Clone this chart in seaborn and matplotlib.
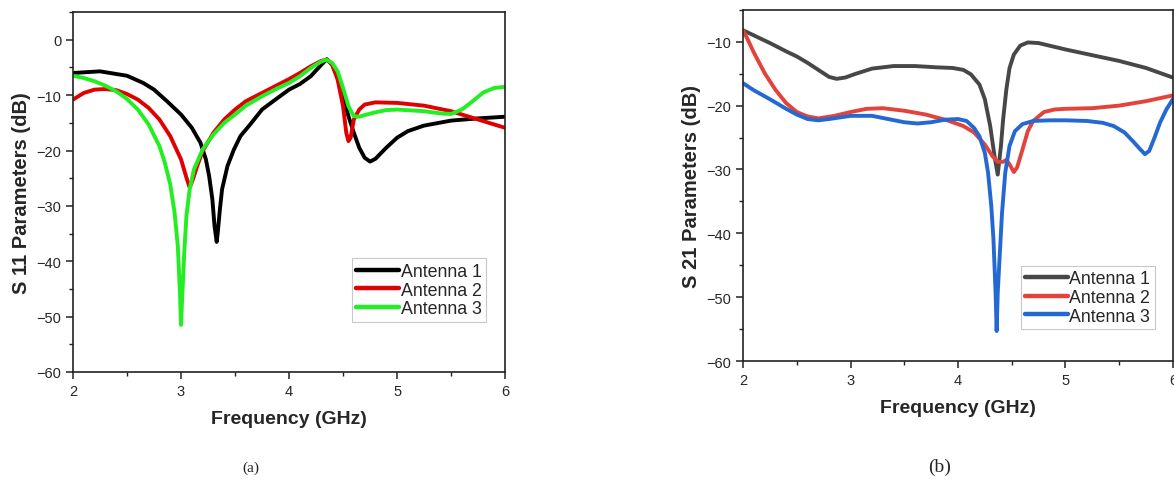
import matplotlib
matplotlib.use("Agg")
import matplotlib.pyplot as plt
import seaborn as sns
import pandas as pd
from matplotlib.ticker import MultipleLocator

# ---- S11 (panel a) ----
s11_f1 = [2.0, 2.25, 2.5, 2.65, 2.75, 2.87, 3.0, 3.1, 3.18, 3.23, 3.26, 3.29, 3.31, 3.33, 3.34, 3.36,
          3.38, 3.43, 3.49, 3.55, 3.64, 3.75, 3.86, 4.0, 4.1, 4.2, 4.3, 4.35, 4.4, 4.45, 4.5, 4.55,
          4.6, 4.65, 4.7, 4.75, 4.8, 4.85, 4.9, 5.0, 5.1, 5.25, 5.5, 5.75, 6.0]
s11_a1 = [-6.0, -5.7, -6.5, -7.8, -9.0, -11.1, -13.5, -15.9, -18.6, -21.6, -24.6, -28.8, -33.6, -36.5, -34.8, -30.6,
          -27.0, -22.8, -19.8, -17.4, -15.3, -12.6, -11.0, -9.0, -8.0, -6.6, -4.5, -3.5, -4.5, -6.9, -10.2, -13.8,
          -16.8, -19.5, -21.3, -22.0, -21.5, -20.5, -19.5, -17.7, -16.5, -15.5, -14.6, -14.2, -13.9]

s11_f2 = [2.0, 2.1, 2.2, 2.3, 2.4, 2.5, 2.6, 2.7, 2.8, 2.9, 2.95, 3.0, 3.05, 3.08, 3.11, 3.15,
          3.2, 3.3, 3.4, 3.5, 3.6, 3.75, 3.9, 4.0, 4.1, 4.2, 4.3, 4.35, 4.4, 4.45, 4.5, 4.53,
          4.55, 4.57, 4.6, 4.65, 4.7, 4.8, 5.0, 5.25, 5.5, 5.75, 6.0]
s11_a2 = [-10.8, -9.6, -9.0, -8.9, -9.1, -9.8, -10.8, -12.3, -14.4, -17.4, -19.5, -21.6, -24.9, -26.7, -25.2, -22.8,
          -20.1, -16.8, -14.4, -12.6, -11.1, -9.6, -8.1, -7.1, -6.0, -4.8, -3.8, -3.6, -4.5, -7.2, -12.0, -16.8,
          -18.3, -17.7, -14.4, -12.6, -11.7, -11.3, -11.4, -11.9, -12.9, -14.4, -15.9]

s11_f3 = [2.0, 2.1, 2.2, 2.3, 2.4, 2.5, 2.6, 2.7, 2.8, 2.85, 2.9, 2.94, 2.97, 2.99, 3.0, 3.01,
          3.03, 3.05, 3.08, 3.12, 3.2, 3.3, 3.4, 3.5, 3.6, 3.75, 3.9, 4.0, 4.1, 4.2, 4.3, 4.35,
          4.4, 4.45, 4.5, 4.55, 4.6, 4.65, 4.7, 4.8, 4.9, 5.0, 5.25, 5.4, 5.5, 5.6, 5.7, 5.8,
          5.9, 6.0]
s11_a3 = [-6.5, -6.9, -7.5, -8.3, -9.3, -10.7, -12.6, -15.3, -19.2, -22.2, -26.1, -31.2, -37.2, -45.6, -51.5, -46.8,
          -38.4, -31.8, -27.0, -23.4, -19.8, -17.1, -15.0, -13.5, -11.9, -10.2, -8.7, -7.8, -6.6, -5.1, -3.9, -3.6,
          -4.2, -5.7, -8.7, -12.0, -13.8, -13.9, -13.6, -13.1, -12.7, -12.6, -12.9, -13.3, -13.4, -12.6, -11.1, -9.5,
          -8.7, -8.5]

# ---- S21 (panel b) ----
s21_f1 = [2.0, 2.1, 2.25, 2.4, 2.5, 2.6, 2.7, 2.8, 2.87, 2.95, 3.05, 3.2, 3.4, 3.6, 3.8, 3.95,
          4.05, 4.12, 4.2, 4.25, 4.3, 4.34, 4.37, 4.4, 4.42, 4.45, 4.48, 4.52, 4.58, 4.65, 4.75, 4.9,
          5.0, 5.25, 5.5, 5.75, 5.9, 6.0]
s21_a1 = [-8.2, -9.0, -10.2, -11.5, -12.3, -13.3, -14.4, -15.5, -15.8, -15.6, -15.0, -14.2, -13.8, -13.8, -14.0, -14.1,
          -14.4, -15.1, -16.7, -19.0, -23.2, -27.9, -30.8, -26.3, -22.2, -17.5, -14.1, -12.0, -10.6, -10.1, -10.2, -10.8,
          -11.2, -12.1, -13.0, -14.1, -15.0, -15.6]

s21_f2 = [2.0, 2.05, 2.1, 2.2, 2.3, 2.4, 2.5, 2.6, 2.7, 2.85, 3.0, 3.15, 3.3, 3.5, 3.7, 3.9,
          4.05, 4.15, 4.25, 4.32, 4.37, 4.42, 4.45, 4.48, 4.52, 4.55, 4.6, 4.65, 4.7, 4.8, 4.9, 5.0,
          5.25, 5.5, 5.75, 6.0]
s21_a2 = [-8.2, -9.9, -11.7, -14.9, -17.5, -19.6, -21.0, -21.7, -22.0, -21.6, -21.0, -20.5, -20.4, -20.8, -21.4, -22.3,
          -23.2, -24.2, -26.1, -27.9, -28.8, -28.8, -28.5, -29.2, -30.4, -29.7, -26.9, -24.0, -22.4, -21.0, -20.6, -20.5,
          -20.4, -20.0, -19.3, -18.4]

s21_f3 = [2.0, 2.1, 2.25, 2.4, 2.5, 2.6, 2.7, 2.8, 3.0, 3.2, 3.35, 3.5, 3.62, 3.75, 3.88, 4.0,
          4.08, 4.15, 4.2, 4.25, 4.28, 4.31, 4.33, 4.35, 4.36, 4.37, 4.39, 4.41, 4.44, 4.48, 4.53, 4.6,
          4.7, 4.85, 5.0, 5.2, 5.35, 5.45, 5.55, 5.63, 5.7, 5.74, 5.78, 5.83, 5.88, 5.94, 6.0]
s21_a3 = [-16.5, -17.6, -19.0, -20.5, -21.4, -22.1, -22.3, -22.1, -21.6, -21.6, -22.1, -22.6, -22.8, -22.6, -22.2, -22.1,
          -22.4, -23.5, -24.8, -27.4, -30.5, -35.7, -40.9, -49.3, -55.3, -49.3, -43.0, -36.8, -30.5, -26.3, -24.0, -22.9,
          -22.4, -22.3, -22.3, -22.4, -22.7, -23.2, -24.2, -25.6, -26.9, -27.6, -27.1, -25.0, -22.7, -20.6, -19.0]

names = ["Antenna 1", "Antenna 2", "Antenna 3"]
colors_a = ["#000000", "#e00000", "#22ee22"]
colors_b = ["#474747", "#e2433b", "#2468d2"]


def long_df(freqs, vals):
    parts = []
    for name, f, v in zip(names, freqs, vals):
        parts.append(pd.DataFrame({"freq": f, "db": v, "ant": name}))
    return pd.concat(parts, ignore_index=True)


df_a = long_df([s11_f1, s11_f2, s11_f3], [s11_a1, s11_a2, s11_a3])
df_b = long_df([s21_f1, s21_f2, s21_f3], [s21_a1, s21_a2, s21_a3])

sns.set_style("ticks")
plt.rcParams["font.family"] = ["Liberation Sans", "DejaVu Sans"]

fig = plt.figure(figsize=(11.74, 4.85), dpi=100)
ax1 = fig.add_axes([0.0622, 0.231, 0.368, 0.742])
ax2 = fig.add_axes([0.633, 0.2536, 0.366, 0.724])


def style(ax, df, pal, ylab, ylim, yticks, leg_anchor):
    sns.lineplot(data=df, x="freq", y="db", hue="ant", palette=pal, estimator=None,
                 sort=True, linewidth=2.8, ax=ax)
    for ln in ax.get_lines():
        ln.set_solid_joinstyle("round")
        ln.set_solid_capstyle("round")
    ax.set_xlim(2, 6)
    ax.set_ylim(*ylim)
    ax.set_xticks([2, 3, 4, 5, 6])
    ax.set_yticks(yticks)
    ax.xaxis.set_minor_locator(MultipleLocator(0.5))
    ax.yaxis.set_minor_locator(MultipleLocator(5))
    ax.tick_params(which="major", direction="out", length=5, width=1.1, labelsize=10.5, color="#222222")
    ax.tick_params(which="minor", direction="out", length=3, width=1.0, color="#222222")
    for sp in ax.spines.values():
        sp.set_linewidth(1.2)
        sp.set_color("#222222")
    ax.set_xlabel("Frequency (GHz)", fontsize=14, fontweight="bold", labelpad=9)
    ax.set_ylabel(ylab, fontsize=14.5, fontweight="bold", labelpad=4)
    leg = ax.legend(loc="lower right", bbox_to_anchor=leg_anchor, fontsize=12.8, frameon=True,
                    fancybox=False, handlelength=2.4, handletextpad=0.1, borderpad=0.25,
                    labelspacing=0.1, borderaxespad=0)
    leg.get_frame().set_edgecolor("#bbbbbb")
    leg.get_frame().set_linewidth(0.8)
    for h in leg.get_lines():
        h.set_linewidth(3.2)


style(ax1, df_a, colors_a, "S 11 Parameters (dB)", (-60, 5), [0, -10, -20, -30, -40, -50, -60], (0.956, 0.139))
style(ax2, df_b, colors_b, "S 21 Parameters (dB)", (-60, -5), [-10, -20, -30, -40, -50, -60], (0.958, 0.091))

fig.text(0.2138, 0.027, "(a)", fontsize=11, family=["Liberation Serif", "DejaVu Serif"], ha="center")
fig.text(0.8007, 0.027, "(b)", fontsize=14, family=["Liberation Serif", "DejaVu Serif"], ha="center")

fig.savefig("out.png", dpi=100)
